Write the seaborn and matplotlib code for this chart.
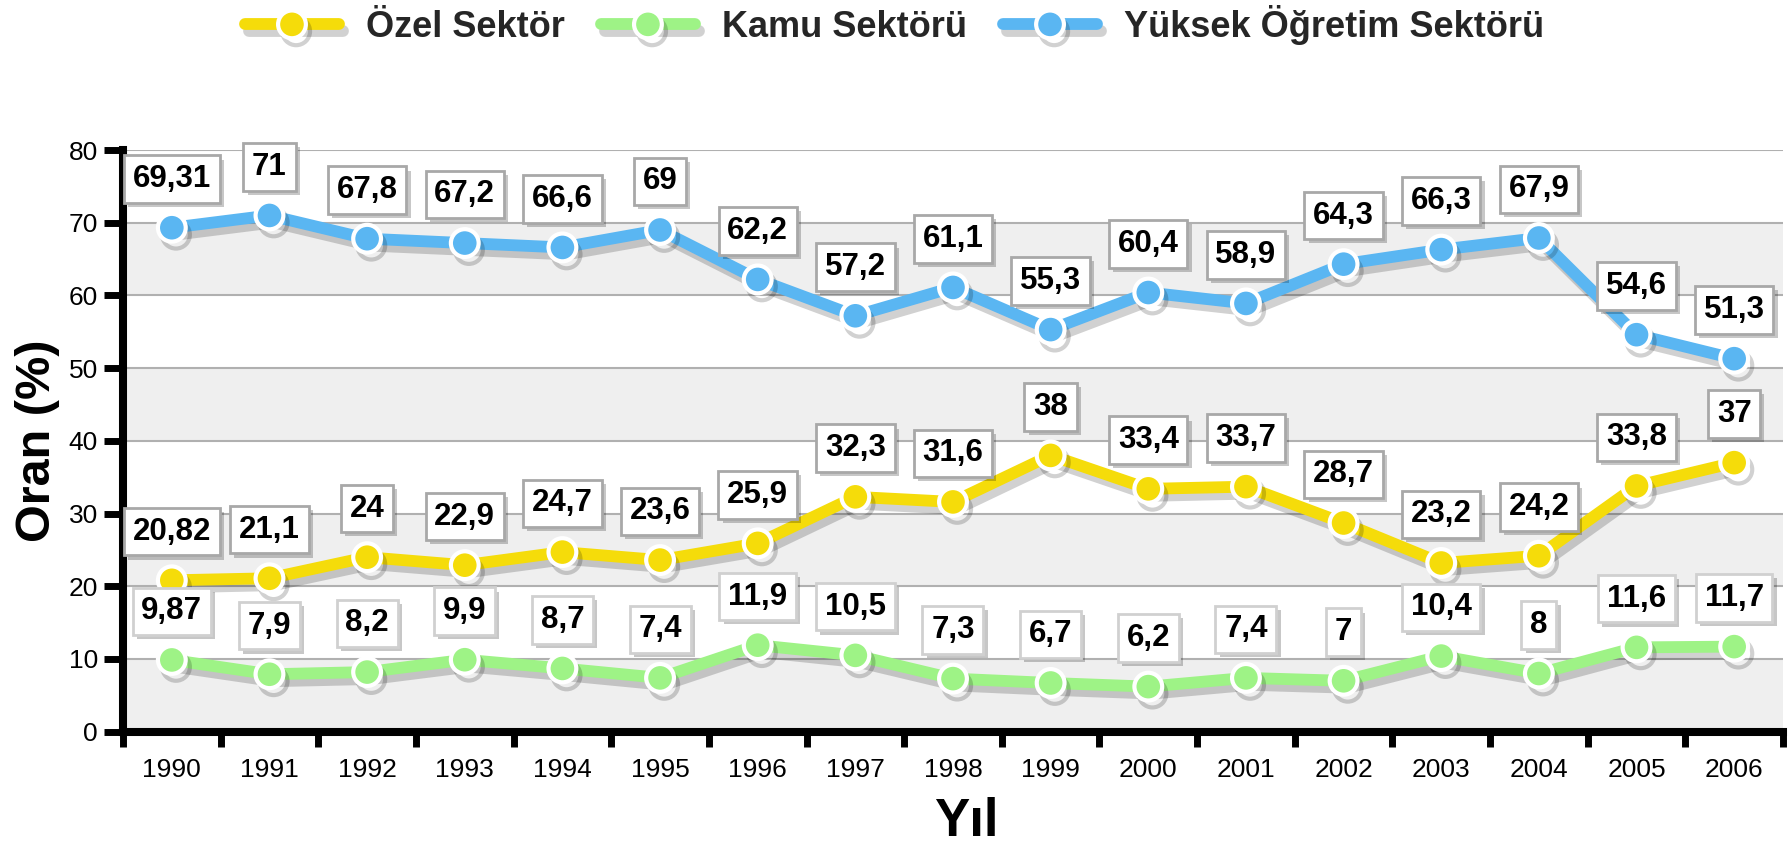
import numpy as np
import pandas as pd
import matplotlib
matplotlib.use("Agg")
import matplotlib.pyplot as plt
import matplotlib.patheffects as pe
from matplotlib.lines import Line2D
from matplotlib.ticker import MultipleLocator, FixedLocator
import seaborn as sns

# --- data ---
years = list(range(1990, 2007))
sectors = ['Özel Sektör', 'Kamu Sektörü', 'Yüksek Öğretim Sektörü']
ozel = [20.82, 21.1, 24, 22.9, 24.7, 23.6, 25.9, 32.3, 31.6, 38, 33.4, 33.7, 28.7, 23.2, 24.2, 33.8, 37]
kamu = [9.87, 7.9, 8.2, 9.9, 8.7, 7.4, 11.9, 10.5, 7.3, 6.7, 6.2, 7.4, 7, 10.4, 8, 11.6, 11.7]
yuksek = [69.31, 71, 67.8, 67.2, 66.6, 69, 62.2, 57.2, 61.1, 55.3, 60.4, 58.9, 64.3, 66.3, 67.9, 54.6, 51.3]
colors = ['#f5dc0a', '#9ef386', '#5ab6f2']

df = pd.DataFrame({'Yıl': years, sectors[0]: ozel, sectors[1]: kamu, sectors[2]: yuksek})
long = df.melt(id_vars='Yıl', var_name='Sektör', value_name='Oran')

sns.set_theme(style="white")
plt.rcParams['font.family'] = ['Liberation Sans', 'DejaVu Sans']

fig = plt.figure(figsize=(17.91, 8.47), dpi=100)
ax = fig.add_axes([123 / 1791, 1 - 731.7 / 847, 1660 / 1791, 581.7 / 847])

# alternating bands
for lo in range(0, 80, 20):
    ax.axhspan(lo, lo + 10, color='#efefef', zorder=0, lw=0)

sns.lineplot(data=long, x='Yıl', y='Oran', hue='Sektör', hue_order=sectors,
             palette=colors, marker='o', markersize=20, markeredgecolor='white',
             markeredgewidth=3, linewidth=8.5, legend=False, ax=ax, zorder=3)

shadow = [pe.SimpleLineShadow(offset=(3, -5), shadow_color='black', alpha=0.18), pe.Normal()]
for ln in ax.lines:
    ln.set_path_effects(shadow)

# value labels
for vals, edge in zip([ozel, kamu, yuksek], ['#a8a8a8', '#d0d0d0', '#a8a8a8']):
    for x, v in zip(years, vals):
        txt = f"{v:g}".replace('.', ',')
        an = ax.annotate(txt, (x, v), xytext=(0, 35), textcoords='offset points',
                         ha='center', va='center', fontsize=22.5, fontweight='bold', color='black',
                         bbox=dict(boxstyle='square,pad=0.28', fc='white', ec=edge, lw=2), zorder=6)
        an.get_bbox_patch().set_path_effects([pe.withSimplePatchShadow(offset=(3, -3), shadow_rgbFace='black', alpha=0.22)])

ax.set_xlim(1989.5, 2006.5)
ax.set_ylim(0, 80)
ax.yaxis.set_major_locator(MultipleLocator(10))
ax.yaxis.grid(True, color='#b0b0b0', lw=1.5, zorder=1)
ax.xaxis.grid(False)
ax.set_axisbelow(True)

ax.xaxis.set_major_locator(FixedLocator(np.arange(1989.5, 2007, 1)))
ax.xaxis.set_minor_locator(FixedLocator(years))
ax.set_xticklabels([], minor=False)
ax.set_xticklabels([str(y) for y in years], minor=True)
ax.tick_params(axis='x', which='major', direction='out', length=11, width=5, color='black', bottom=True)
ax.tick_params(axis='x', which='minor', length=0, pad=19, labelsize=19, labelcolor='black')
ax.tick_params(axis='y', which='major', direction='out', length=14, width=5, color='black',
               left=True, pad=4, labelsize=19, labelcolor='black')

for s in ['top', 'right']:
    ax.spines[s].set_visible(False)
for s in ['left', 'bottom']:
    ax.spines[s].set_color('black')
    ax.spines[s].set_linewidth(5.8)

ax.set_ylabel('Oran (%)', fontsize=35, fontweight='bold', color='black', va='center')
ax.yaxis.set_label_coords(-0.0518, 0.5)
ax.set_xlabel('Yıl', fontsize=38, fontweight='bold', color='black', va='center')
ax.xaxis.set_label_coords(0.508, -0.155)

handles = [Line2D([], [], color=c, lw=8.5, marker='o', markersize=20, markeredgecolor='white',
                  markeredgewidth=3, path_effects=shadow)
           for c in colors]
fig.legend(handles, sectors, loc='center', bbox_to_anchor=(0.4995, 1 - 25 / 847), ncol=3,
           frameon=False, handlelength=2.6, handletextpad=0.75, columnspacing=1.0,
           prop={'size': 26, 'weight': 'bold'})

fig.savefig('out.png', dpi=100)
